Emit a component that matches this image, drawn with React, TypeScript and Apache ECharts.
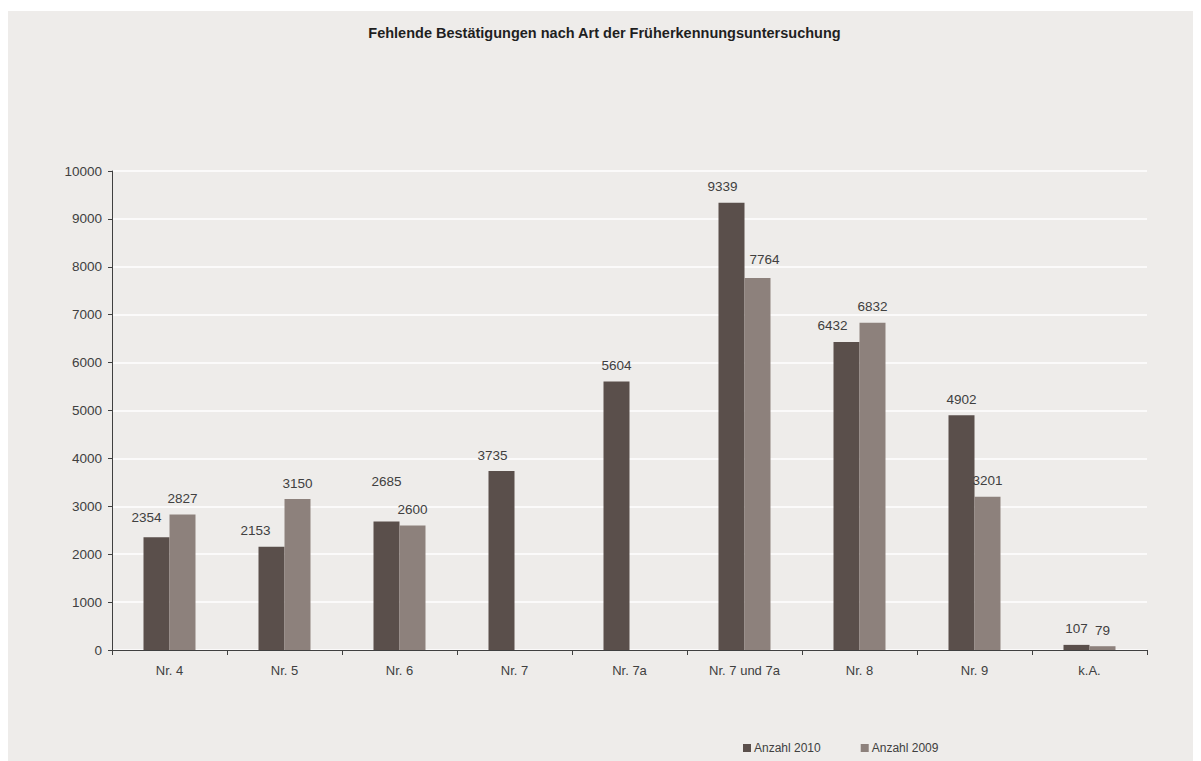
import React, { useEffect, useRef } from "react";
import * as echarts from "echarts";

const categories = ["Nr. 4", "Nr. 5", "Nr. 6", "Nr. 7", "Nr. 7a", "Nr. 7 und 7a", "Nr. 8", "Nr. 9", "k.A."];
const values2010 = [2354, 2153, 2685, 3735, 5604, 9339, 6432, 4902, 107];
const values2009: (number | null)[] = [2827, 3150, 2600, null, null, 7764, 6832, 3201, 79];
const seriesNames = ["Anzahl 2010", "Anzahl 2009"];
const yTicks = { min: 0, max: 10000, interval: 1000 };
const title = "Fehlende Bestätigungen nach Art der Früherkennungsuntersuchung";

// label nudges (px) to mimic hand-placed labels of the original
const labelShift2010: [number, number][] = [[-10, -4], [-16, 0], [0, -24], [-9, 0], [0, 0], [-9, 0], [-14, 0], [0, 0], [0, 0]];
const labelShift2009: [number, number][] = [[0, 0], [0, 0], [0, 0], [0, 0], [0, 0], [7, -3], [0, 0], [0, 0], [0, 0]];

const FONT = "'Liberation Sans', Arial, sans-serif";
const TXT = "#404040";

export default function App() {
  const ref = useRef<HTMLDivElement>(null);
  useEffect(() => {
    document.body.style.overflow = "hidden";
    const chart = echarts.init(ref.current!, undefined, { renderer: "svg" });
    const mk = (vals: (number | null)[], shifts: [number, number][]) =>
      vals.map((v, i) => ({
        value: v === null ? "-" : v,
        label: { offset: shifts[i] },
      }));
    chart.setOption({
      animation: false,
      backgroundColor: "#eeecea",
      textStyle: { fontFamily: FONT },
      title: {
        text: title,
        left: "center",
        top: 9,
        textStyle: { fontFamily: FONT, fontSize: 14.5, fontWeight: "bold", color: "#1f1f1f" },
      },
      legend: {
        left: 730,
        top: 726,
        itemWidth: 8,
        itemHeight: 8,
        itemGap: 40,
        icon: "rect",
        textStyle: { fontFamily: FONT, fontSize: 12, color: TXT, padding: [0, 0, 0, -2] },
        data: seriesNames,
      },
      grid: { left: 104, top: 160, width: 1035, height: 479, containLabel: false },
      xAxis: {
        type: "category",
        data: categories,
        axisLine: { lineStyle: { color: "#404040", width: 1 } },
        axisTick: { show: true, length: 5, lineStyle: { color: "#404040" } },
        axisLabel: { color: TXT, fontSize: 13, margin: 14, fontFamily: FONT },
      },
      yAxis: {
        type: "value",
        min: yTicks.min,
        max: yTicks.max,
        interval: yTicks.interval,
        axisLine: { show: true, lineStyle: { color: "#404040", width: 1 } },
        axisTick: { show: true, length: 4, lineStyle: { color: "#404040" } },
        axisLabel: { color: TXT, fontSize: 13.5, margin: 10, fontFamily: FONT, formatter: (v: number) => String(v) },
        splitLine: { show: true, lineStyle: { color: "#ffffff", width: 1.5 } },
      },
      series: [
        {
          name: seriesNames[0],
          type: "bar",
          barWidth: 26,
          barGap: "0%",
          itemStyle: { color: "#5a4f4b" },
          label: { show: true, position: "top", distance: 9, color: TXT, fontSize: 13.5, fontFamily: FONT },
          data: mk(values2010, labelShift2010),
        },
        {
          name: seriesNames[1],
          type: "bar",
          barWidth: 26,
          barGap: "0%",
          itemStyle: { color: "#8d817c" },
          label: { show: true, position: "top", distance: 9, color: TXT, fontSize: 13.5, fontFamily: FONT },
          data: mk(values2009, labelShift2009),
        },
      ],
    });
    return () => chart.dispose();
  }, []);
  return <div ref={ref} style={{ width: 1193, height: 750, marginTop: 3 }} />;
}
